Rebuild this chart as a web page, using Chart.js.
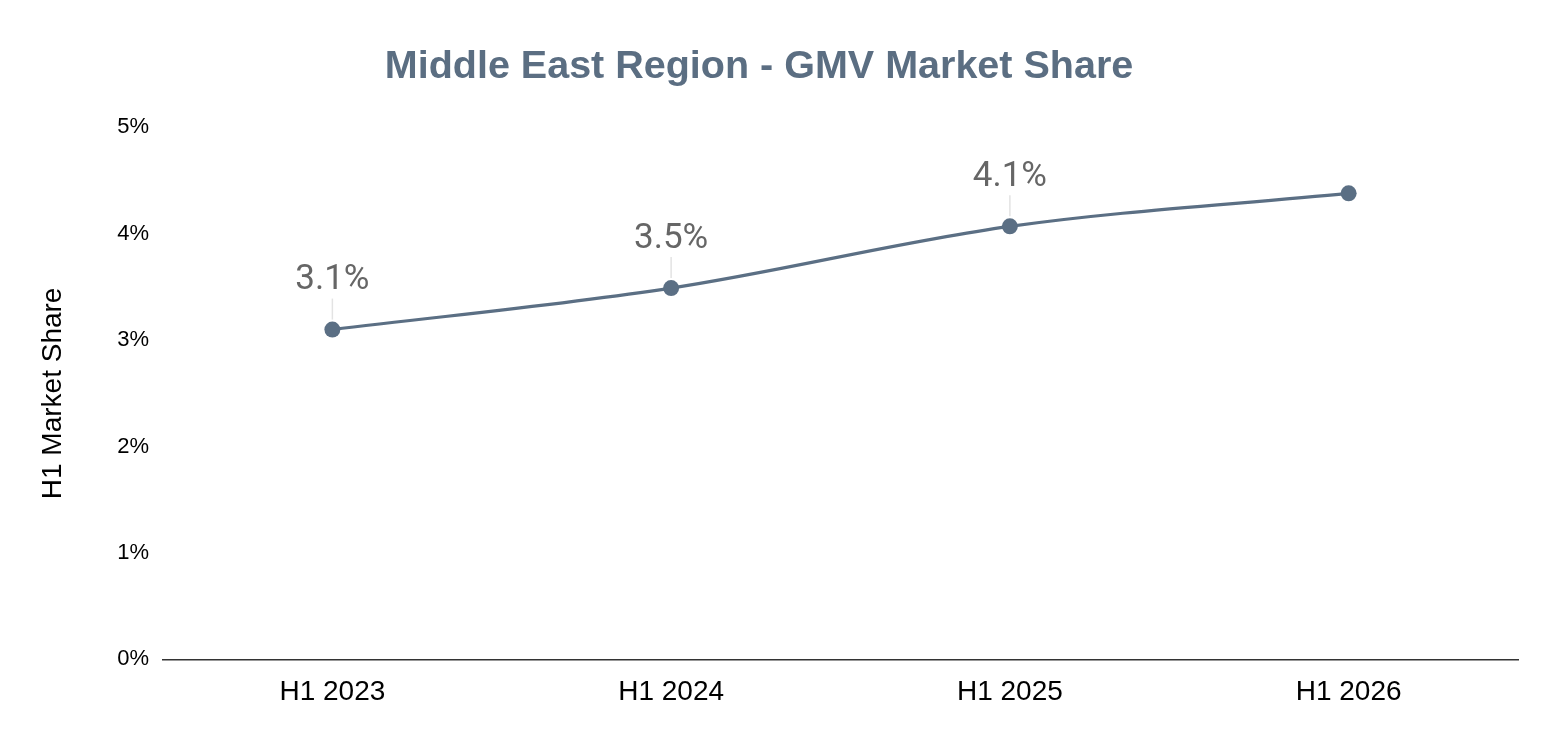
<!DOCTYPE html>
<html>
<head>
<meta charset="utf-8">
<title>Middle East Region - GMV Market Share</title>
<script src="https://cdn.jsdelivr.net/npm/chart.js@4.4.1/dist/chart.umd.min.js"></script>
<style>
  html, body { margin: 0; padding: 0; background: #fff; }
  #wrap { width: 1556px; height: 742px; }
</style>
</head>
<body>
<div id="wrap"><canvas id="grafico"></canvas></div>
<script>
const periodos = ['H1 2023', 'H1 2024', 'H1 2025', 'H1 2026'];
const cuota = [3.1, 3.49, 4.07, 4.38];
const etiquetas = ['3.1%', '3.5%', '4.1%', ''];   // la última no lleva etiqueta
const ticksY = [0, 1, 2, 3, 4, 5];

const colorSerie = '#5b6f84';

// etiquetas sobre los puntos con su pequeña línea guía
const etiquetasPlugin = {
    id: 'etiquetas',
    afterDatasetsDraw(chart) {
        const ctx = chart.ctx;
        const meta = chart.getDatasetMeta(0);
        ctx.save();
        meta.data.forEach((pt, i) => {
            if (!etiquetas[i]) return;
            ctx.strokeStyle = '#e3e3e3';
            ctx.lineWidth = 1.5;
            ctx.beginPath();
            ctx.moveTo(pt.x, pt.y - 10);
            ctx.lineTo(pt.x, pt.y - 31);
            ctx.stroke();
            ctx.fillStyle = '#666666';
            ctx.font = '35px Roboto';
            ctx.textAlign = 'center';
            ctx.textBaseline = 'middle';
            ctx.fillText(etiquetas[i], pt.x, pt.y - 49);
        });
        ctx.restore();
    }
};

new Chart(document.getElementById('grafico'), {
    type: 'line',
    data: {
        labels: periodos,
        datasets: [{
            label: 'H1 Market Share',
            data: cuota,
            borderColor: colorSerie,
            backgroundColor: colorSerie,
            borderWidth: 3.2,
            pointRadius: 8,
            pointHoverRadius: 8,
            pointBackgroundColor: colorSerie,
            pointBorderWidth: 0,
            cubicInterpolationMode: 'monotone',
            fill: false
        }]
    },
    options: {
        responsive: true,
        maintainAspectRatio: false,
        animation: false,
        layout: { padding: { top: 0, right: 38, bottom: 17, left: 0 } },
        plugins: {
            legend: { display: false },
            tooltip: { enabled: false },
            title: {
                display: true,
                text: 'Middle East Region - GMV Market Share',
                color: '#5b6e82',
                font: { family: 'Liberation Sans', size: 39.5, weight: 'bold' },
                padding: { top: 43, bottom: 37 }
            }
        },
        scales: {
            x: {
                offset: true,
                grid: { display: false, drawTicks: false },
                border: { display: true, color: '#333333', width: 1.5 },
                ticks: {
                    color: '#000000',
                    padding: 16,
                    font: { family: 'Liberation Sans', size: 28 }
                }
            },
            y: {
                min: ticksY[0],
                max: ticksY[ticksY.length - 1],
                afterFit(scale) { scale.width = 163; },
                afterBuildTicks(scale) { scale.ticks = ticksY.map(v => ({ value: v })); },
                grid: { display: false, drawTicks: false },
                border: { display: false },
                ticks: {
                    color: '#000000',
                    padding: 14,
                    font: { family: 'Liberation Sans', size: 22 },
                    callback: v => v + '%'
                },
                title: {
                    display: true,
                    text: 'H1 Market Share',
                    color: '#000000',
                    font: { family: 'Liberation Sans', size: 28 },
                    padding: { top: 36, bottom: 0 }
                }
            }
        }
    },
    plugins: [etiquetasPlugin]
});
</script>
</body>
</html>
